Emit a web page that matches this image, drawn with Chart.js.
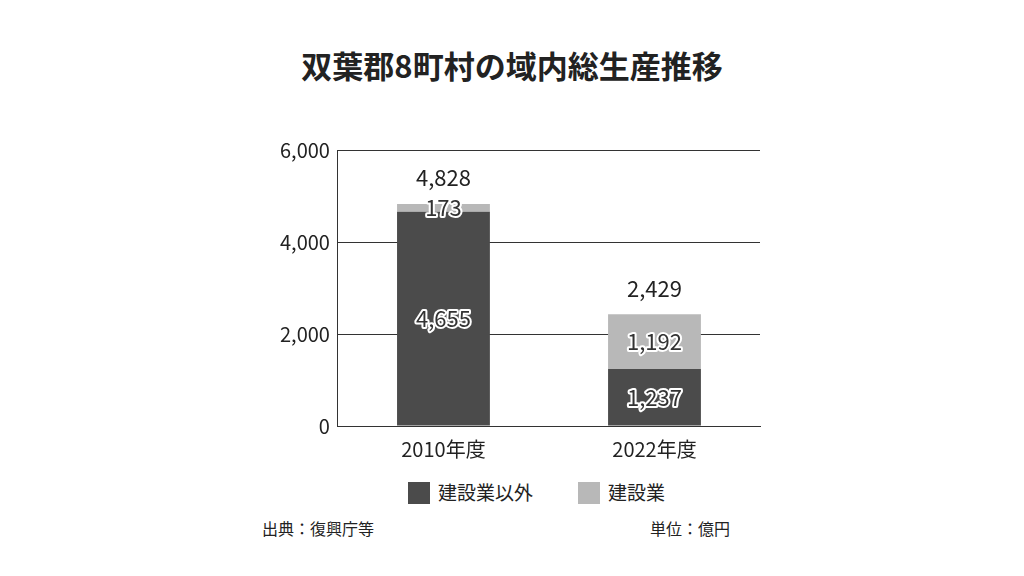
<!DOCTYPE html>
<html><head><meta charset="utf-8">
<script src="https://cdn.jsdelivr.net/npm/chart.js@4"></script>
<style>
body{margin:0;background:#fff;font-family:"Noto Sans CJK JP",sans-serif;}
#wrap{position:relative;width:1024px;height:576px;}
#title{position:absolute;top:42px;left:0;width:1024px;text-align:center;font-size:31px;font-weight:bold;color:#222;}
#c{position:absolute;left:272px;top:130px;}
.leg{position:absolute;top:478px;font-size:19px;color:#222;}
.sw{display:inline-block;width:22px;height:22px;vertical-align:-4px;margin-right:8px;}
.foot{position:absolute;top:516px;font-size:16px;color:#222;}
</style></head><body>
<div id="wrap">
<div id="title">双葉郡8町村の域内総生産推移</div>
<canvas id="c" width="508" height="334"></canvas>
<div class="leg" style="left:408px"><span class="sw" style="background:#4b4b4b"></span>建設業以外</div>
<div class="leg" style="left:578px"><span class="sw" style="background:#b8b8b8"></span>建設業</div>
<div class="foot" style="left:262px">出典：復興庁等</div>
<div class="foot" style="left:650px">単位：億円</div>
</div>
<script>
const categories = ["2010年度", "2022年度"];
const nonConstruction = [4655, 1237];
const construction = [173, 1192];
const totals = [4828, 2429];
const yTicks = [0, 2000, 4000, 6000];

const labelPlugin = {
  id: "labels",
  afterDatasetsDraw(chart) {
    const ctx = chart.ctx;
    ctx.save();
    ctx.font = "22px 'Noto Sans CJK JP'";
    ctx.textAlign = "center";
    ctx.textBaseline = "middle";
    chart.data.datasets.forEach((ds, di) => {
      chart.getDatasetMeta(di).data.forEach((bar, i) => {
        const v = ds.data[i];
        const y = (bar.y + bar.base) / 2;
        ctx.lineWidth = 4; ctx.strokeStyle = "#fff"; ctx.lineJoin = "round";
        ctx.strokeText(v.toLocaleString("en-US"), bar.x, y);
        ctx.fillStyle = "#333";
        ctx.fillText(v.toLocaleString("en-US"), bar.x, y);
      });
    });
    const top = chart.getDatasetMeta(1).data;
    top.forEach((bar, i) => {
      ctx.fillStyle = "#222";
      ctx.fillText(totals[i].toLocaleString("en-US"), bar.x, bar.y - 26);
    });
    ctx.restore();
  }
};

new Chart(document.getElementById("c"), {
  type: "bar",
  data: {
    labels: categories,
    datasets: [
      { label: "建設業以外", data: nonConstruction, backgroundColor: "#4b4b4b", categoryPercentage: 1, barPercentage: 0.44 },
      { label: "建設業", data: construction, backgroundColor: "#b8b8b8", categoryPercentage: 1, barPercentage: 0.44 }
    ]
  },
  options: {
    responsive: false,
    animation: false,
    layout: { padding: { right: 20, top: 8 } },
    plugins: { legend: { display: false }, tooltip: { enabled: false } },
    scales: {
      x: {
        stacked: true,
        grid: { display: false },
        border: { color: "#333" },
        ticks: { color: "#222", font: { size: 20, family: "Noto Sans CJK JP" } }
      },
      y: {
        stacked: true, min: 0, max: 6000,
        afterBuildTicks: a => { a.ticks = yTicks.map(v => ({ value: v })); },
        grid: { color: "#333", drawTicks: false },
        border: { color: "#333" },
        ticks: { color: "#222", padding: 8, font: { size: 20, family: "Noto Sans CJK JP" },
          callback: v => v.toLocaleString("en-US") }
      }
    }
  },
  plugins: [labelPlugin]
});
</script>
</body></html>
